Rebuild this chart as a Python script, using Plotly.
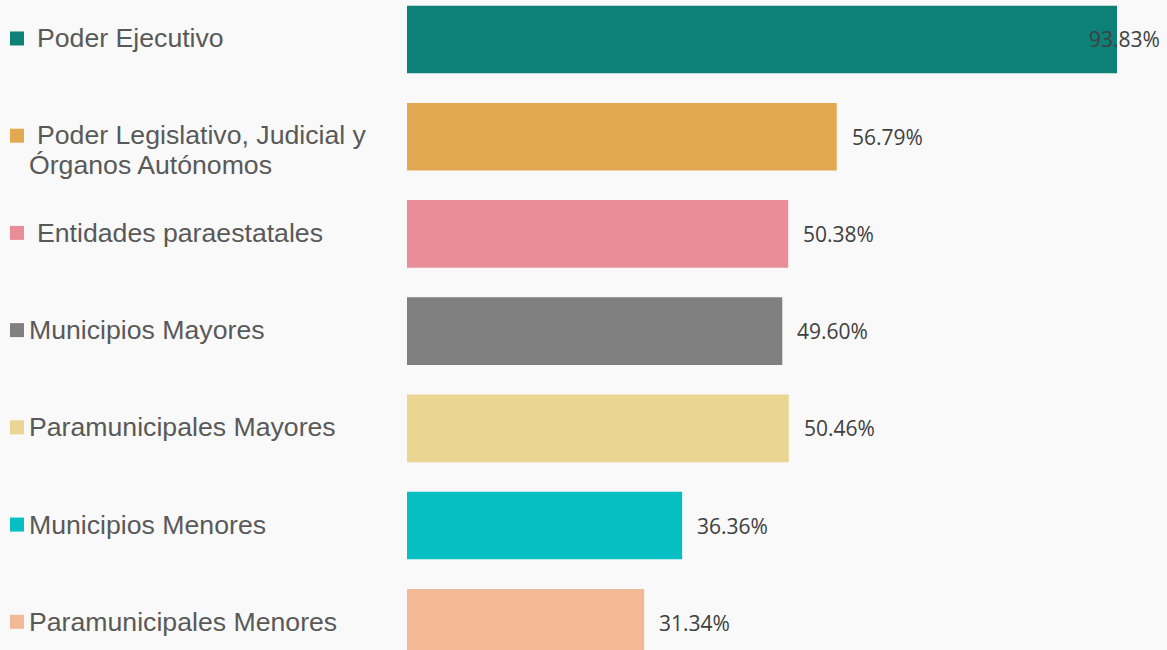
import plotly.graph_objects as go

categories = [
    " Poder Ejecutivo",
    " Poder Legislativo, Judicial y<br>Órganos Autónomos",
    " Entidades paraestatales",
    "Municipios Mayores",
    "Paramunicipales Mayores",
    "Municipios Menores",
    "Paramunicipales Menores",
]
values = [93.83, 56.79, 50.38, 49.60, 50.46, 36.36, 31.34]
colors = ["#0D8078", "#E3A950", "#E98E99", "#808080", "#EBD592", "#05BFC2", "#F3B896"]

W, H = 1167, 650
PLOT_LEFT = 407
XMAX = 100.44
BG = "#F9F9F9"
LABEL_COLOR = "#595959"
VALUE_COLOR = "#404040"

idx = list(range(len(categories)))

fig = go.Figure(go.Bar(
    x=values, y=idx, orientation="h",
    marker=dict(color=colors, line=dict(width=0)),
    width=0.695, hoverinfo="skip",
))

ann = []
shapes = []
px_per_unit = (W - PLOT_LEFT) / XMAX
for i, (lab, v, c) in enumerate(zip(categories, values, colors)):
    shapes.append(dict(type="rect", xref="paper", yref="y", ysizemode="pixel",
                       yanchor=i, y0=-6, y1=8, x0=10 / W, x1=24 / W,
                       fillcolor=c, line=dict(width=0)))
    indent = lab.startswith(" ")
    lines = lab.strip().split("<br>")
    for j, line in enumerate(lines):
        x0 = (35 if (indent and j == 0) else 27) / W
        ann.append(dict(text=line, xref="paper", yref="y", x=x0, y=i,
                        xanchor="left", yanchor="middle", showarrow=False,
                        yshift=(2 if len(lines) > 1 else 1) - 30 * j,
                        font=dict(family="Arial", size=26.67, color=LABEL_COLOR)))
    txt = f"{v:.2f}%"
    end_px = PLOT_LEFT + v * px_per_unit
    if end_px + 16 + 72 > W:
        ann.append(dict(text=txt, xref="paper", yref="y", x=1162 / W, y=i,
                        xanchor="right", yanchor="middle", showarrow=False,
                        font=dict(family="Open Sans", size=21, color=VALUE_COLOR)))
    else:
        ann.append(dict(text=txt, xref="x", yref="y", x=v, y=i, xshift=13,
                        xanchor="left", yanchor="middle", showarrow=False,
                        font=dict(family="Open Sans", size=21, color=VALUE_COLOR)))

fig.update_layout(
    width=W, height=H,
    margin=dict(l=0, r=0, t=0, b=0),
    paper_bgcolor=BG, plot_bgcolor=BG,
    showlegend=False,
    xaxis=dict(domain=[PLOT_LEFT / W, 1], range=[0, XMAX], visible=False, fixedrange=True),
    yaxis=dict(range=[6.280, -0.406], visible=False, fixedrange=True),
    annotations=ann, shapes=shapes,
)

fig.write_html("out.html", config={"displayModeBar": False},
               post_script="document.body.style.margin='0';document.body.style.background='#F9F9F9';")
